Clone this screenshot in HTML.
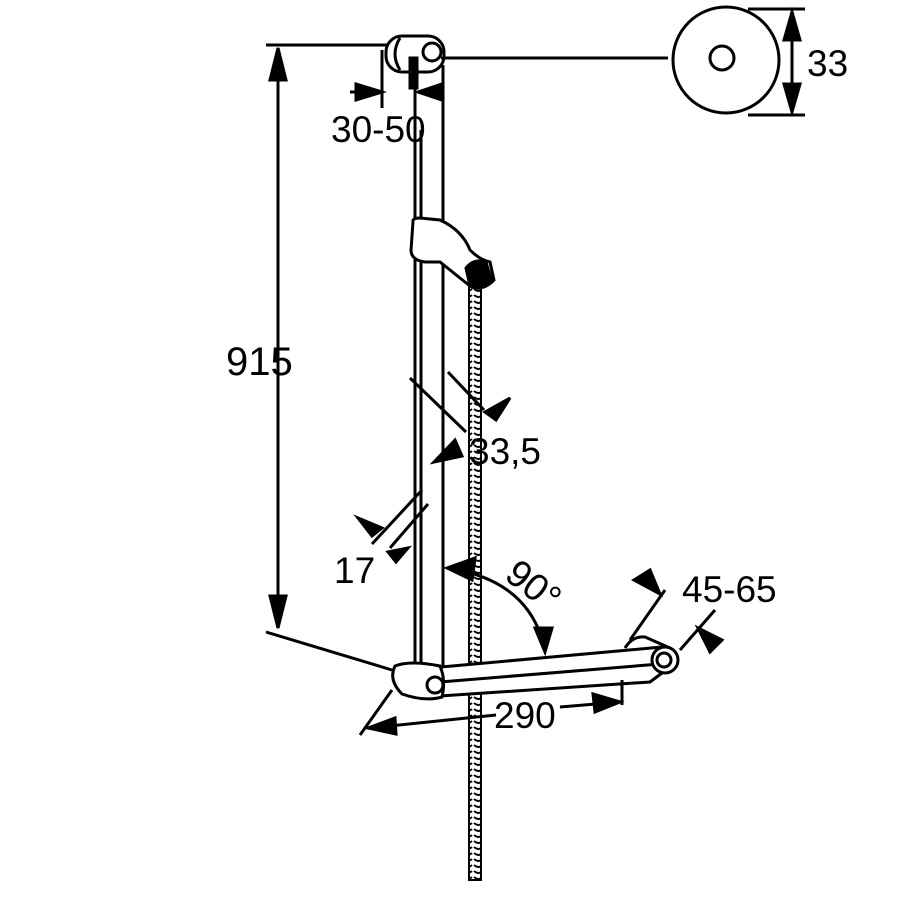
<!DOCTYPE html>
<html><head><style>body{margin:0;background:#fff}svg{display:block}text{font-family:"Liberation Sans",sans-serif;fill:#000}</style></head>
<body>
<svg width="900" height="900" viewBox="0 0 900 900" stroke="#000" fill="none" stroke-width="3">
<defs>
<pattern id="hose" width="11" height="6" patternUnits="userSpaceOnUse"><rect width="11" height="6" fill="#fff" stroke="none"/><path d="M1 1 Q5.5 5 10 1" stroke-width="1.8"/></pattern>
</defs>
<!-- 915 dimension -->
<line x1="266" y1="45" x2="392" y2="45"/>
<line x1="278" y1="48" x2="278" y2="628"/>
<polygon points="278,48 270,80 286,80" fill="#000"/>
<polygon points="278,628 270,596 286,596" fill="#000"/>
<line x1="266" y1="632" x2="392" y2="670"/>
<text x="226" y="375" font-size="40" stroke="none">915</text>
<!-- hose -->
<rect x="469" y="280" width="12" height="600" fill="url(#hose)" stroke-width="2"/>
<!-- rail -->
<line x1="415" y1="65" x2="415" y2="680"/>
<line x1="421" y1="130" x2="421" y2="680"/>
<line x1="443" y1="65" x2="443" y2="680"/>
<!-- top cap -->
<rect x="386" y="36" width="58" height="36" rx="16" fill="#fff"/>
<path d="M400 38 Q390 54 400 70"/>
<circle cx="432" cy="52" r="9" fill="#fff"/>
<line x1="441" y1="58" x2="668" y2="58"/>
<rect x="410" y="58" width="7" height="30" fill="#000"/>
<!-- 30-50 -->
<line x1="382" y1="50" x2="382" y2="108"/>
<line x1="443" y1="68" x2="443" y2="100"/>
<line x1="350" y1="92" x2="382" y2="92"/>
<polygon points="382,92 356,84 356,100" fill="#000"/>
<polygon points="418,92 442,84 442,100" fill="#000"/>
<text x="331" y="142" font-size="37" stroke="none">30-50</text>
<!-- right disc -->
<circle cx="726" cy="60" r="53" fill="#fff"/>
<circle cx="722" cy="58" r="12"/>
<line x1="748" y1="9" x2="805" y2="9"/>
<line x1="748" y1="115" x2="805" y2="115"/>
<line x1="792" y1="12" x2="792" y2="112"/>
<polygon points="792,12 784,40 800,40" fill="#000"/>
<polygon points="792,112 784,84 800,84" fill="#000"/>
<text x="807" y="76" font-size="37" stroke="none">33</text>
<!-- slider holder -->
<path d="M413 222 Q412 218 420 218 L440 220 Q462 230 470 250 Q480 260 490 262 L494 280 Q482 292 470 286 L440 262 L425 262 Q411 260 411 250 Z" fill="#fff"/>
<path d="M466 268 Q474 258 486 262 L492 282 Q480 292 470 286 Z" fill="#000"/>
<!-- 33,5 -->
<line x1="410" y1="378" x2="466" y2="432"/>
<line x1="448" y1="372" x2="484" y2="410"/>
<polygon points="485,412 510,398 496,420" fill="#000"/>
<polygon points="434,462 455,440 462,456" fill="#000"/>
<text x="469" y="464" font-size="37" stroke="none">33,5</text>
<!-- 17 -->
<line x1="372" y1="544" x2="422" y2="490"/>
<line x1="390" y1="548" x2="428" y2="504"/>
<polygon points="382,528 358,518 372,536" fill="#000"/>
<polygon points="388,552 408,548 396,562" fill="#000"/>
<text x="334" y="583" font-size="37" stroke="none">17</text>
<!-- 90 arc -->
<path d="M447 568 Q530 580 545 650"/>
<polygon points="447,568 475,558 472,580" fill="#000"/>
<polygon points="545,652 535,628 552,628" fill="#000"/>
<text x="0" y="0" font-size="38" stroke="none" transform="translate(503,578) rotate(38)">90°</text>
<!-- bottom bar -->
<path d="M430 668 L662 647 L674 664 L650 682 L440 696" fill="#fff"/>
<line x1="440" y1="682" x2="660" y2="664"/>
<path d="M625 648 Q632 636 645 637 L670 648"/>
<circle cx="665" cy="660" r="13" fill="#fff"/>
<circle cx="664" cy="660" r="7"/>
<path d="M395 666 Q410 660 440 666 Q446 680 442 697 Q425 702 402 694 Q388 680 395 666 Z" fill="#fff"/>
<circle cx="435" cy="685" r="8"/>
<!-- 290 -->
<line x1="392" y1="690" x2="360" y2="735"/>
<line x1="622" y1="680" x2="622" y2="705"/>
<line x1="370" y1="728" x2="496" y2="715"/>
<line x1="560" y1="707" x2="620" y2="702"/>
<polygon points="368,728 395,718 396,734" fill="#000"/>
<polygon points="620,702 593,694 595,712" fill="#000"/>
<text x="494" y="728" font-size="37" stroke="none">290</text>
<!-- 45-65 -->
<line x1="630" y1="640" x2="665" y2="590"/>
<line x1="680" y1="650" x2="715" y2="610"/>
<polygon points="660,594 634,580 650,570" fill="#000"/>
<polygon points="698,628 722,640 710,652" fill="#000"/>
<text x="682" y="602" font-size="37" stroke="none">45-65</text>
</svg>
</body></html>
